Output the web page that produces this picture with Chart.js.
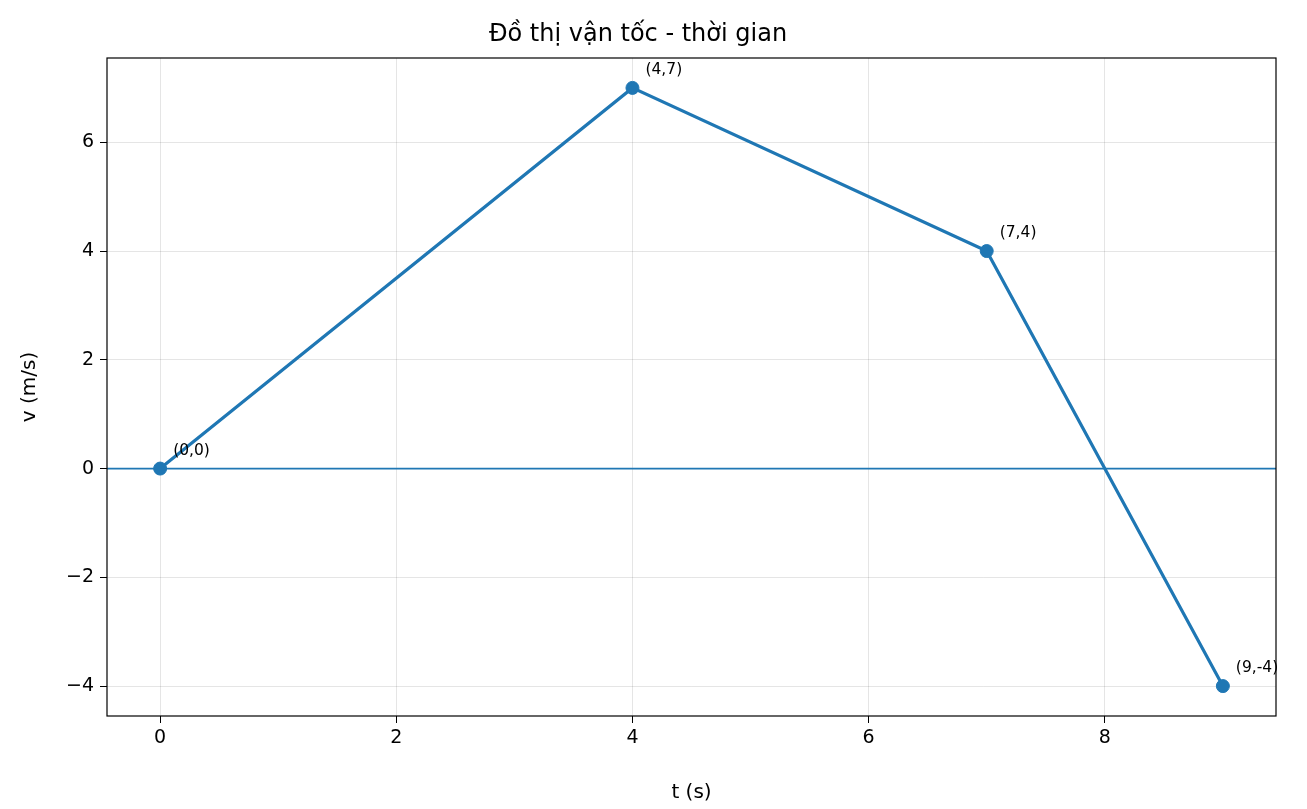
<!DOCTYPE html>
<html><head><meta charset="utf-8">
<script src="https://cdn.jsdelivr.net/npm/chart.js@4"></script>
<style>body{margin:0;background:#fff}</style>
</head><body>
<canvas id="c" width="1307" height="809"></canvas>
<script>
const tValues = [0, 4, 7, 9];
const vValues = [0, 7, 4, -4];
const pointLabels = ["(0,0)", "(4,7)", "(7,4)", "(9,-4)"];
const xTicks = [0, 2, 4, 6, 8];
const yTicks = [-4, -2, 0, 2, 4, 6];
const xRange = [-0.45, 9.45];
const yRange = [-4.55, 7.55];

const fnt = "'DejaVu Sans', sans-serif";
const labelPlugin = {
  id: 'labels',
  afterDatasetsDraw(chart) {
    const ctx = chart.ctx, meta = chart.getDatasetMeta(0);
    ctx.save();
    ctx.font = "15.5px " + fnt; ctx.fillStyle = "#000"; ctx.textBaseline = "alphabetic";
    meta.data.forEach((p, i) => ctx.fillText(pointLabels[i], p.x + 13, p.y - 14));
    const a = chart.chartArea;
    ctx.strokeStyle = "#000"; ctx.lineWidth = 1.2;
    ctx.strokeRect(a.left, a.top, a.right - a.left, a.bottom - a.top);
    ctx.restore();
  }
};
new Chart(document.getElementById('c'), {
  type: 'scatter',
  data: { datasets: [
    { data: tValues.map((t, i) => ({x: t, y: vValues[i]})), showLine: true,
      borderColor: '#1f77b4', backgroundColor: '#1f77b4', borderWidth: 3.2,
      pointRadius: 6.5, pointHoverRadius: 6.5, pointBorderWidth: 1 },
    { data: [{x: xRange[0], y: 0}, {x: xRange[1], y: 0}], showLine: true,
      borderColor: '#1f77b4', borderWidth: 1.8, pointRadius: 0 }
  ]},
  options: {
    responsive: false, animation: false,
    layout: { padding: { right: 31, left: 0, bottom: 0 } },
    plugins: {
      legend: { display: false }, tooltip: { enabled: false },
      title: { display: true, text: 'Đồ thị vận tốc - thời gian', color: '#000',
        font: { family: fnt, size: 24, weight: 'normal', lineHeight: 1.2 },
        padding: { top: 20, bottom: 9.2 } }
    },
    scales: {
      x: { type: 'linear', min: xRange[0], max: xRange[1],
        afterBuildTicks: s => { s.ticks = xTicks.map(v => ({value: v})); },
        afterFit: s => { s.height = 93; },
        grid: { color: 'rgba(0,0,0,0.1)', drawTicks: true, tickLength: 7, tickColor: '#000' },
        border: { display: false },
        ticks: { color: '#000', font: { family: fnt, size: 19 }, padding: 4,
          callback: v => String(v).replace('-', '−') },
        title: { display: true, text: 't (s)', color: '#000', font: { family: fnt, size: 20 }, padding: { top: 6 } } },
      y: { type: 'linear', min: yRange[0], max: yRange[1],
        afterBuildTicks: s => { s.ticks = yTicks.map(v => ({value: v})); },
        afterFit: s => { s.width = 107; },
        grid: { color: 'rgba(0,0,0,0.1)', drawTicks: true, tickLength: 7, tickColor: '#000' },
        border: { display: false },
        ticks: { color: '#000', font: { family: fnt, size: 19 }, padding: 6,
          callback: v => String(v).replace('-', '−') },
        title: { display: true, text: 'v (m/s)', color: '#000', font: { family: fnt, size: 20 }, padding: { top: 18, bottom: 10 } } }
    }
  },
  plugins: [labelPlugin]
});
</script>
</body></html>
